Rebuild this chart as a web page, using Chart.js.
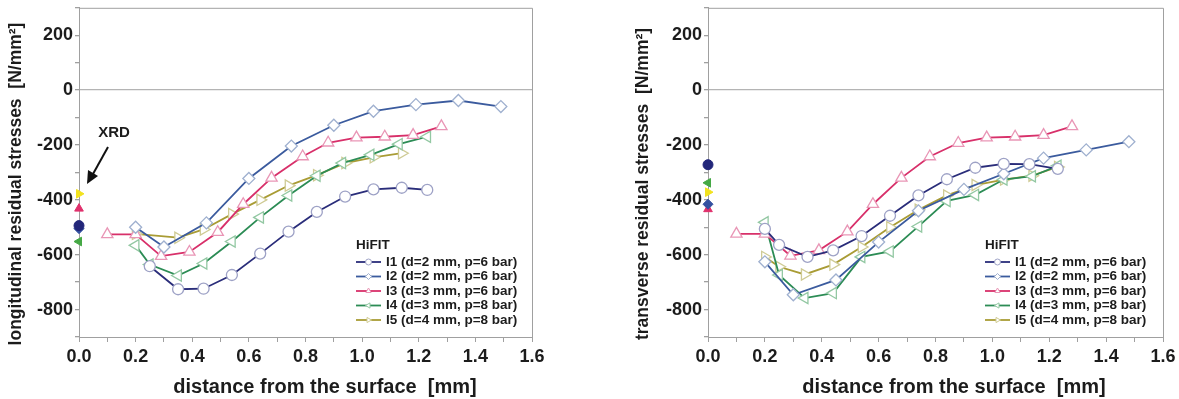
<!DOCTYPE html>
<html>
<head>
<meta charset="utf-8">
<script src="https://cdn.jsdelivr.net/npm/chart.js@4.4.1/dist/chart.umd.min.js"></script>
<style>
  body { margin: 0; background: #fff; width: 1179px; height: 399px; overflow: hidden; position: relative; }
  canvas { position: absolute; top: 0; }
  #left { left: 0; }
  #right { left: 629px; }
</style>
</head>
<body>
<canvas id="left" width="550" height="399"></canvas>
<canvas id="right" width="550" height="399"></canvas>
<script>
var seriesNames = ['I1 (d=2 mm, p=6 bar)', 'I2 (d=2 mm, p=6 bar)', 'I3 (d=3 mm, p=6 bar)',
                   'I4 (d=3 mm, p=8 bar)', 'I5 (d=4 mm, p=8 bar)'];
var xTicks = [0.0, 0.2, 0.4, 0.6, 0.8, 1.0, 1.2, 1.4, 1.6];
var yTicks = [200, 0, -200, -400, -600, -800];

// longitudinal residual stresses (left)
var longI1x = [0.25, 0.35, 0.44, 0.54, 0.64, 0.74, 0.84, 0.94, 1.04, 1.14, 1.23];
var longI1y = [-642, -726, -724, -674, -596, -516, -444, -388, -362, -356, -364];
var longI2x = [0.2, 0.3, 0.45, 0.6, 0.75, 0.9, 1.04, 1.19, 1.34, 1.49];
var longI2y = [-500, -572, -484, -322, -204, -128, -77, -53, -38, -60];
var longI3x = [0.1, 0.2, 0.29, 0.39, 0.49, 0.58, 0.68, 0.79, 0.88, 0.98, 1.08, 1.18, 1.28];
var longI3y = [-526, -526, -605, -590, -518, -416, -320, -242, -192, -173, -170, -164, -132];
var longI4x = [0.2, 0.25, 0.35, 0.44, 0.54, 0.64, 0.74, 0.84, 0.93, 1.03, 1.13, 1.23];
var longI4y = [-566, -636, -676, -632, -552, -464, -384, -312, -266, -236, -197, -170];
var longI5x = [0.2, 0.35, 0.44, 0.54, 0.64, 0.74, 0.84, 0.94, 1.04, 1.14];
var longI5y = [-524, -538, -508, -452, -400, -348, -310, -266, -245, -230];
var longXrd = [-494, -505, -432, -552, -378];   // I1..I5 at the surface

// transverse residual stresses (right)
var transI1x = [0.2, 0.25, 0.35, 0.44, 0.54, 0.64, 0.74, 0.84, 0.94, 1.04, 1.13, 1.23];
var transI1y = [-506, -564, -608, -584, -532, -458, -384, -325, -283, -269, -270, -287];
var transI2x = [0.2, 0.3, 0.45, 0.6, 0.74, 0.9, 1.04, 1.18, 1.33, 1.48];
var transI2y = [-626, -746, -692, -554, -440, -362, -305, -248, -218, -188];
var transI3x = [0.1, 0.2, 0.29, 0.39, 0.49, 0.58, 0.68, 0.78, 0.88, 0.98, 1.08, 1.18, 1.28];
var transI3y = [-524, -524, -604, -584, -516, -416, -320, -242, -193, -173, -170, -164, -132];
var transI4x = [0.2, 0.25, 0.34, 0.44, 0.54, 0.64, 0.74, 0.84, 0.94, 1.04, 1.14, 1.23];
var transI4y = [-482, -674, -758, -740, -608, -588, -497, -404, -382, -326, -314, -276];
var transI5x = [0.2, 0.25, 0.34, 0.44, 0.54, 0.64, 0.74, 0.84, 0.94, 1.04, 1.14, 1.23];
var transI5y = [-608, -644, -672, -636, -572, -500, -436, -384, -346, -326, -312, -280];
var transXrd = [-272, -416, -434, -338, -372];

var lineColors = ['#2a2d7a', '#3b5b9e', '#d8306a', '#2c8c55', '#a99c35'];
var markColors = ['#9ea2c6', '#9fb0cf', '#e996b6', '#93c8a3', '#cfcb95'];
var xrdColors = ['#22267a', '#3350a0', '#e0306c', '#45a845', '#f2e21e'];
var markStyles = ['circle', 'rectRot', 'triangle', 'triangle', 'triangle'];
var markRot = [0, 0, 0, -90, 90];
var markSize = [5.5, 6, 6.5, 6.5, 6.5];

var font = 'Liberation Sans, Arial, sans-serif';
var textColor = '#1c1c1c';

function buildSets(xs, ys, xrd) {
    var sets = [];
    for (var i = 0; i < 5; i++) {
        var pts = xs[i].map(function(x, j) { return {x: x, y: ys[i][j]}; });
        sets.push({
            label: seriesNames[i], data: pts, showLine: true, tension: 0,
            borderColor: lineColors[i], borderWidth: 1.8,
            pointStyle: markStyles[i], pointRotation: markRot[i], pointRadius: markSize[i],
            pointBackgroundColor: '#fff', pointBorderColor: markColors[i], pointBorderWidth: 1.3
        });
    }
    for (i = 0; i < 5; i++) {
        sets.push({
            label: 'XRD', data: [{x: 0, y: xrd[i]}], showLine: false, clip: false,
            pointStyle: markStyles[i], pointRotation: markRot[i], pointRadius: 5,
            pointBackgroundColor: xrdColors[i], pointBorderColor: xrdColors[i], pointBorderWidth: 1
        });
    }
    return sets;
}

// frame, axis titles, legend box and XRD arrow
var extras = {
    id: 'extras',
    afterDraw: function(chart, args, opts) {
        var ctx = chart.ctx, a = chart.chartArea;
        ctx.save();
        ctx.strokeStyle = '#a0a0a0';
        ctx.lineWidth = 1;
        ctx.beginPath();
        ctx.moveTo(a.left, a.top + 0.5);
        ctx.lineTo(a.right + 0.5, a.top + 0.5);
        ctx.lineTo(a.right + 0.5, a.bottom);
        ctx.stroke();

        ctx.fillStyle = textColor;
        ctx.font = 'bold 20px ' + font;
        ctx.textAlign = 'center';
        ctx.textBaseline = 'alphabetic';
        ctx.fillText('distance from the surface  [mm]', a.left + 246, 393);

        ctx.save();
        ctx.translate(opts.yTitleX, 184);
        ctx.rotate(-Math.PI / 2);
        ctx.font = 'bold 17.5px ' + font;
        ctx.textBaseline = 'middle';
        ctx.fillText(opts.yTitle, 0, 0);
        ctx.restore();

        var lx = a.left + 277;
        ctx.textAlign = 'left';
        ctx.textBaseline = 'middle';
        ctx.font = 'bold 13.5px ' + font;
        ctx.fillText('HiFIT', lx, 245);
        for (var i = 0; i < 5; i++) {
            var ly = 262 + i * 14.5;
            ctx.strokeStyle = lineColors[i];
            ctx.lineWidth = 1.8;
            ctx.beginPath();
            ctx.moveTo(lx, ly);
            ctx.lineTo(lx + 25, ly);
            ctx.stroke();
            ctx.fillStyle = '#fff';
            ctx.strokeStyle = markColors[i];
            ctx.lineWidth = 1;
            Chart.helpers.drawPoint(ctx, {pointStyle: markStyles[i], rotation: markRot[i], radius: 3, borderWidth: 1}, lx + 12.5, ly);
            ctx.fillStyle = textColor;
            ctx.fillText(chart.data.datasets[i].label, lx + 30, ly);
        }

        if (opts.xrd) {
            ctx.font = 'bold 15px ' + font;
            ctx.textAlign = 'center';
            ctx.fillText('XRD', 114, 133);
            ctx.strokeStyle = '#111';
            ctx.lineWidth = 2;
            ctx.beginPath();
            ctx.moveTo(108, 147);
            ctx.lineTo(93, 174);
            ctx.stroke();
            ctx.fillStyle = '#111';
            ctx.beginPath();
            ctx.moveTo(87, 184);
            ctx.lineTo(88, 170);
            ctx.lineTo(98, 176);
            ctx.closePath();
            ctx.fill();
        }
        ctx.restore();
    }
};

function makeChart(id, sets, yTitle, yTitleX, rightPad, showXrd) {
    return new Chart(document.getElementById(id), {
        type: 'scatter',
        data: { datasets: sets },
        options: {
            responsive: false,
            animation: false,
            devicePixelRatio: 1,
            layout: { padding: { left: 0, right: rightPad, top: 3, bottom: 0 } },
            plugins: {
                legend: { display: false }, tooltip: { enabled: false },
                extras: { xrd: showXrd, yTitle: yTitle, yTitleX: yTitleX }
            },
            scales: {
                x: {
                    type: 'linear', min: 0, max: 1.6,
                    ticks: {
                        stepSize: 0.1, autoSkip: false, maxRotation: 0, padding: 4, color: textColor,
                        font: { family: font, weight: 'bold', size: 18 },
                        callback: function(v) {
                            var t = xTicks.find(function(k) { return Math.abs(k - v) < 1e-6; });
                            return t === undefined ? '' : t.toFixed(1);
                        }
                    },
                    grid: { drawOnChartArea: false, tickLength: 5, tickColor: '#a0a0a0' },
                    border: { color: '#a0a0a0' },
                    afterFit: function(s) { s.height = 62; s.paddingLeft = 0; s.paddingRight = 0; }
                },
                y: {
                    min: -900, max: 300,
                    ticks: {
                        stepSize: 100, autoSkip: false, padding: 2, color: textColor,
                        font: { family: font, weight: 'bold', size: 18 },
                        callback: function(v) { return yTicks.indexOf(v) >= 0 ? String(v) : ''; }
                    },
                    grid: {
                        color: function(c) { return c.tick && c.tick.value === 0 ? '#b4b4b4' : 'rgba(0,0,0,0)'; },
                        lineWidth: 1.3, tickLength: 4, tickColor: '#a0a0a0'
                    },
                    border: { color: '#a0a0a0' },
                    afterFit: function(s) { s.width = 79; s.paddingTop = 0; s.paddingBottom = 0; }
                }
            }
        },
        plugins: [extras]
    });
}

makeChart('left',
    buildSets([longI1x, longI2x, longI3x, longI4x, longI5x], [longI1y, longI2y, longI3y, longI4y, longI5y], longXrd),
    'longitudinal residual stresses  [N/mm\u00B2]', 16.5, 18, true);
makeChart('right',
    buildSets([transI1x, transI2x, transI3x, transI4x, transI5x], [transI1y, transI2y, transI3y, transI4y, transI5y], transXrd),
    'transverse residual stresses  [N/mm\u00B2]', 14, 16, false);
</script>
</body>
</html>
